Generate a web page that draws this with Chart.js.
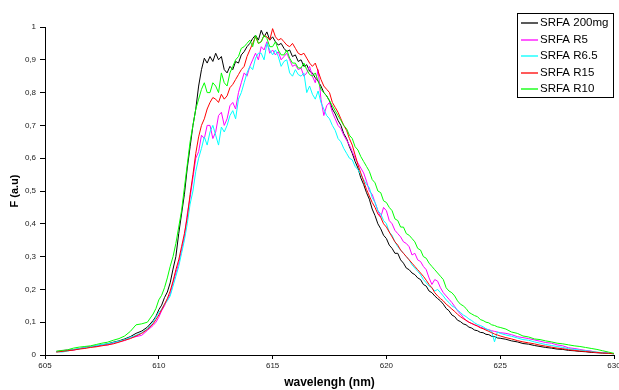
<!DOCTYPE html>
<html>
<head>
<meta charset="utf-8">
<script src="https://cdn.jsdelivr.net/npm/chart.js@4.4.1/dist/chart.umd.min.js"></script>
<style>
  html, body { margin: 0; padding: 0; background: #fff; }
  #wrap { width: 619px; height: 390px; }
</style>
</head>
<body>
<div id="wrap"><canvas id="spectra" width="619" height="390"></canvas></div>
<script>
  // wavelength grid (nm)
  const wavelength = [
    605.5, 605.75,
    606, 606.25, 606.5, 606.75,
    607, 607.25, 607.5, 607.75,
    608, 608.25, 608.5, 608.75,
    609, 609.25, 609.5,
    609.75, 609.875,
    610, 610.125, 610.25, 610.375, 610.5, 610.625, 610.75, 610.875,
    611, 611.125, 611.25, 611.375, 611.5, 611.625, 611.75, 611.875,
    612, 612.125, 612.25, 612.375, 612.5, 612.625, 612.75, 612.875,
    613, 613.125, 613.25, 613.375, 613.5, 613.625, 613.75, 613.875,
    614, 614.125, 614.25, 614.375, 614.5, 614.625, 614.75, 614.875,
    615, 615.125, 615.25, 615.375, 615.5, 615.625, 615.75, 615.875,
    616, 616.125, 616.25, 616.375, 616.5, 616.625, 616.75, 616.875,
    617, 617.125, 617.25, 617.375, 617.5, 617.625, 617.75, 617.875,
    618, 618.125, 618.25, 618.375, 618.5, 618.625, 618.75, 618.875,
    619, 619.125, 619.25, 619.375, 619.5, 619.625, 619.75, 619.875,
    620, 620.125, 620.25, 620.375, 620.5, 620.625, 620.75, 620.875,
    621, 621.125, 621.25, 621.375, 621.5, 621.625, 621.75, 621.875,
    622, 622.125, 622.25, 622.375, 622.5, 622.625, 622.75, 622.875,
    623, 623.125, 623.25, 623.375, 623.5, 623.625, 623.75, 623.875,
    624, 624.125, 624.25, 624.375, 624.5, 624.625, 624.75, 624.875,
    625,
    625.25, 625.5, 625.75,
    626, 626.25, 626.5, 626.75,
    627, 627.25, 627.5, 627.75,
    628, 628.25, 628.5, 628.75,
    629, 629.25, 629.5, 629.75,
    630
  ];

  const srfa200mg = [
    0.010, 0.012,
    0.014, 0.016, 0.019, 0.022,
    0.025, 0.027, 0.031, 0.034,
    0.039, 0.043, 0.049, 0.056,
    0.066, 0.073, 0.085,
    0.105, 0.118,
    0.138, 0.152, 0.175, 0.192, 0.22, 0.262, 0.30, 0.37,
    0.43, 0.49, 0.57, 0.635, 0.70, 0.75, 0.82, 0.87,
    0.905, 0.89, 0.91, 0.895, 0.92, 0.90, 0.91, 0.87,
    0.86, 0.88, 0.87, 0.895, 0.89, 0.915, 0.925, 0.94,
    0.95, 0.965, 0.975, 0.96, 0.99, 0.97, 0.985, 0.96,
    0.97, 0.955, 0.945, 0.95, 0.935, 0.925, 0.93, 0.91,
    0.915, 0.895, 0.90, 0.88, 0.885, 0.865, 0.86, 0.845,
    0.835, 0.82, 0.80, 0.79, 0.775, 0.75, 0.735, 0.715,
    0.70, 0.675, 0.66, 0.635, 0.615, 0.59, 0.57, 0.54,
    0.52, 0.495, 0.475, 0.445, 0.425, 0.40, 0.385, 0.365,
    0.355, 0.335, 0.325, 0.31, 0.31, 0.29, 0.28, 0.265,
    0.26, 0.25, 0.245, 0.235, 0.23, 0.215, 0.21, 0.195,
    0.19, 0.18, 0.172, 0.165, 0.155, 0.142, 0.135, 0.122,
    0.117, 0.106, 0.102, 0.095, 0.092, 0.085, 0.082, 0.076,
    0.074, 0.069, 0.068, 0.063, 0.062, 0.057, 0.056, 0.052,
    0.051,
    0.048, 0.043, 0.040,
    0.035, 0.033, 0.029, 0.026,
    0.023, 0.021, 0.018, 0.017,
    0.014, 0.013, 0.011, 0.010,
    0.008, 0.007, 0.006, 0.005,
    0.004
  ];

  const srfaR5 = [
    0.010, 0.013,
    0.016, 0.015, 0.019, 0.024,
    0.026, 0.028, 0.031, 0.030,
    0.036, 0.041, 0.044, 0.052,
    0.056, 0.060, 0.075,
    0.09, 0.10,
    0.115, 0.135, 0.15, 0.17, 0.185, 0.22, 0.25, 0.28,
    0.32, 0.36, 0.43, 0.48, 0.54, 0.60, 0.62, 0.67,
    0.66, 0.70, 0.70, 0.66, 0.68, 0.73, 0.74, 0.70,
    0.72, 0.76, 0.77, 0.75, 0.80, 0.83, 0.86, 0.85,
    0.88, 0.90, 0.92, 0.90, 0.94, 0.93, 0.955, 0.92,
    0.93, 0.915, 0.925, 0.90, 0.91, 0.92, 0.90, 0.88,
    0.885, 0.87, 0.875, 0.85, 0.86, 0.88, 0.85, 0.83,
    0.87, 0.78, 0.73, 0.76, 0.77, 0.74, 0.72, 0.70,
    0.69, 0.67, 0.655, 0.64, 0.62, 0.60, 0.585, 0.57,
    0.555, 0.53, 0.50, 0.49, 0.465, 0.44, 0.42, 0.45,
    0.44, 0.41, 0.40, 0.38, 0.37, 0.36, 0.345, 0.34,
    0.33, 0.305, 0.31, 0.29, 0.285, 0.27, 0.26, 0.235,
    0.215, 0.23, 0.225, 0.205, 0.19, 0.18, 0.17, 0.16,
    0.148, 0.135, 0.125, 0.115, 0.105, 0.10, 0.096, 0.092,
    0.089, 0.085, 0.082, 0.079, 0.077, 0.074, 0.072, 0.070,
    0.068,
    0.066, 0.062, 0.056,
    0.053, 0.050, 0.046, 0.042,
    0.038, 0.036, 0.031, 0.028,
    0.022, 0.020, 0.017, 0.014,
    0.012, 0.007, 0.008, 0.006,
    0.004
  ];

  const srfaR65 = [
    0.010, 0.009,
    0.012, 0.017, 0.020, 0.022,
    0.025, 0.029, 0.032, 0.034,
    0.038, 0.042, 0.047, 0.054,
    0.060, 0.068, 0.080,
    0.10, 0.115,
    0.13, 0.14, 0.155, 0.165, 0.18, 0.21, 0.24, 0.27,
    0.31, 0.35, 0.40, 0.46, 0.50, 0.56, 0.60, 0.63,
    0.665, 0.64, 0.68, 0.70, 0.67, 0.64, 0.695, 0.68,
    0.70, 0.73, 0.745, 0.72, 0.78, 0.80, 0.83, 0.86,
    0.88, 0.87, 0.905, 0.92, 0.92, 0.90, 0.95, 0.93,
    0.915, 0.93, 0.91, 0.88, 0.895, 0.90, 0.86, 0.85,
    0.87, 0.855, 0.85, 0.86, 0.80, 0.82, 0.795, 0.78,
    0.805, 0.77, 0.75, 0.73, 0.72, 0.70, 0.685, 0.66,
    0.65, 0.63, 0.615, 0.60, 0.595, 0.575, 0.565, 0.55,
    0.535, 0.52, 0.51, 0.48, 0.465, 0.44, 0.43, 0.41,
    0.40, 0.375, 0.365, 0.345, 0.33, 0.32, 0.31, 0.30,
    0.29, 0.275, 0.265, 0.255, 0.245, 0.23, 0.22, 0.21,
    0.205, 0.195, 0.20, 0.19, 0.18, 0.168, 0.16, 0.15,
    0.145, 0.137, 0.13, 0.122, 0.117, 0.11, 0.105, 0.098,
    0.093, 0.09, 0.086, 0.08, 0.076, 0.072, 0.04, 0.07,
    0.066,
    0.061, 0.057, 0.052,
    0.047, 0.045, 0.040, 0.036,
    0.032, 0.029, 0.026, 0.023,
    0.019, 0.017, 0.015, 0.013,
    0.011, 0.009, 0.007, 0.005,
    0.004
  ];

  const srfaR15 = [
    0.009, 0.011,
    0.013, 0.015, 0.018, 0.020,
    0.023, 0.025, 0.028, 0.031,
    0.034, 0.039, 0.045, 0.050,
    0.058, 0.066, 0.078,
    0.095, 0.108,
    0.122, 0.138, 0.155, 0.172, 0.195, 0.225, 0.26, 0.29,
    0.33, 0.37, 0.42, 0.49, 0.55, 0.615, 0.665, 0.70,
    0.72, 0.75, 0.77, 0.785, 0.78, 0.77, 0.795, 0.78,
    0.79, 0.815, 0.825, 0.84, 0.855, 0.87, 0.88, 0.91,
    0.93, 0.95, 0.97, 0.95, 0.955, 0.975, 0.97, 0.96,
    0.995, 0.97, 0.96, 0.965, 0.955, 0.945, 0.94, 0.95,
    0.935, 0.92, 0.915, 0.92, 0.905, 0.89, 0.88, 0.89,
    0.865, 0.84, 0.82, 0.81, 0.80, 0.77, 0.755, 0.74,
    0.72, 0.70, 0.685, 0.66, 0.64, 0.61, 0.58, 0.555,
    0.53, 0.505, 0.485, 0.465, 0.45, 0.43, 0.42, 0.40,
    0.39, 0.375, 0.36, 0.345, 0.335, 0.32, 0.31, 0.30,
    0.29, 0.28, 0.27, 0.26, 0.25, 0.24, 0.228, 0.215,
    0.205, 0.19, 0.18, 0.172, 0.165, 0.155, 0.148, 0.14,
    0.133, 0.124, 0.117, 0.111, 0.106, 0.10, 0.096, 0.092,
    0.088, 0.083, 0.08, 0.076, 0.072, 0.068, 0.064, 0.061,
    0.058,
    0.053, 0.049, 0.044,
    0.040, 0.037, 0.034, 0.030,
    0.027, 0.024, 0.021, 0.019,
    0.016, 0.014, 0.012, 0.011,
    0.009, 0.008, 0.006, 0.005,
    0.004
  ];

  const srfaR10 = [
    0.012, 0.014,
    0.016, 0.021, 0.024, 0.026,
    0.028, 0.032, 0.036, 0.039,
    0.045, 0.050, 0.058, 0.072,
    0.092, 0.095, 0.100,
    0.125, 0.142,
    0.168, 0.182, 0.205, 0.235, 0.27, 0.30, 0.34, 0.39,
    0.44, 0.51, 0.58, 0.65, 0.70, 0.75, 0.78, 0.81,
    0.83, 0.80, 0.80, 0.83, 0.82, 0.80, 0.86, 0.83,
    0.82, 0.86, 0.88, 0.90, 0.91, 0.935, 0.94, 0.95,
    0.96, 0.94, 0.975, 0.95, 0.955, 0.975, 0.965, 0.94,
    0.94, 0.955, 0.93, 0.915, 0.915, 0.93, 0.905, 0.89,
    0.89, 0.875, 0.875, 0.89, 0.87, 0.855, 0.85, 0.86,
    0.835, 0.81, 0.80, 0.79, 0.775, 0.76, 0.745, 0.73,
    0.715, 0.70, 0.69, 0.67, 0.66, 0.635, 0.625, 0.605,
    0.59, 0.575, 0.56, 0.535, 0.525, 0.50, 0.495, 0.47,
    0.465, 0.45, 0.44, 0.415, 0.41, 0.39, 0.39, 0.37,
    0.365, 0.355, 0.345, 0.325, 0.32, 0.30, 0.295, 0.28,
    0.27, 0.26, 0.25, 0.24, 0.23, 0.205, 0.195, 0.19,
    0.18, 0.165, 0.155, 0.15, 0.142, 0.13, 0.125, 0.12,
    0.117, 0.108, 0.105, 0.10, 0.098, 0.092, 0.09, 0.086,
    0.084,
    0.079, 0.070, 0.066,
    0.058, 0.055, 0.049, 0.047,
    0.043, 0.040, 0.036, 0.034,
    0.031, 0.028, 0.026, 0.023,
    0.020, 0.017, 0.013, 0.009,
    0.005
  ];

  const seriesNames = ['SRFA 200mg', 'SRFA R5', 'SRFA R6.5', 'SRFA R15', 'SRFA R10'];
  const seriesValues = [srfa200mg, srfaR5, srfaR65, srfaR15, srfaR10];
  const seriesColors = ['#000000', '#FF00FF', '#00FFFF', '#FF0000', '#00FF00'];
  // green drawn last (on top), black first
  const drawOrder = [5, 4, 3, 2, 1];

  const FONT = '"Liberation Sans", Arial, Helvetica, sans-serif';

  const datasets = seriesNames.map((name, i) => ({
    label: name,
    data: wavelength.map((x, j) => ({ x: x, y: seriesValues[i][j] })),
    borderColor: seriesColors[i],
    backgroundColor: seriesColors[i],
    borderWidth: 1,
    pointRadius: 0,
    tension: 0,
    order: drawOrder[i]
  }));

  // legend box drawn over the plot, like the original
  const boxLegend = {
    id: 'boxLegend',
    afterDraw(chart) {
      const c = chart.ctx;
      c.save();
      c.fillStyle = '#fff';
      c.fillRect(517.5, 13.5, 96, 84);
      c.strokeStyle = '#000';
      c.lineWidth = 1;
      c.strokeRect(517.5, 13.5, 96, 84);
      c.font = '11.5px ' + FONT;
      c.textBaseline = 'middle';
      c.textAlign = 'left';
      seriesNames.forEach((name, i) => {
        const y = 23 + i * 16.5;
        c.strokeStyle = seriesColors[i];
        c.lineWidth = 1.3;
        c.beginPath();
        c.moveTo(521, Math.round(y));
        c.lineTo(538, Math.round(y));
        c.stroke();
        c.fillStyle = '#000';
        c.fillText(name, 540, y);
      });
      c.restore();
    }
  };

  new Chart(document.getElementById('spectra'), {
    type: 'line',
    data: { datasets: datasets },
    plugins: [boxLegend],
    options: {
      responsive: false,
      animation: false,
      layout: { padding: { top: 27, right: 5, left: 0, bottom: 0 } },
      plugins: {
        legend: { display: false },
        tooltip: { enabled: false }
      },
      scales: {
        x: {
          type: 'linear',
          min: 605,
          max: 630,
          ticks: {
            stepSize: 5,
            color: '#222',
            font: { family: FONT, size: 8 },
            padding: 2,
            maxRotation: 0
          },
          grid: { display: true, drawOnChartArea: false, drawTicks: true, tickLength: 4, color: '#000' },
          border: { display: true, color: '#000', width: 1 },
          title: {
            display: true,
            text: 'wavelengh (nm)',
            color: '#000',
            font: { family: FONT, size: 12, weight: 'bold' },
            padding: { top: 0, bottom: 0 }
          },
          afterFit(scale) {
            scale.height = 35;
            scale.paddingLeft = 0;
            scale.paddingRight = 0;
          }
        },
        y: {
          min: 0,
          max: 1,
          ticks: {
            stepSize: 0.1,
            color: '#222',
            font: { family: FONT, size: 8 },
            padding: 4,
            callback: (v) => String(Math.round(v * 10) / 10).replace('.', ',')
          },
          grid: { display: true, drawOnChartArea: false, drawTicks: true, tickLength: 5, color: '#000' },
          border: { display: true, color: '#000', width: 1 },
          title: {
            display: true,
            text: 'F (a.u)',
            color: '#000',
            font: { family: FONT, size: 11, weight: 'bold' },
            padding: { top: 8, bottom: 0 }
          },
          afterFit(scale) {
            scale.width = 45;
            scale.paddingTop = 0;
            scale.paddingBottom = 0;
          }
        }
      }
    }
  });
</script>
</body>
</html>
